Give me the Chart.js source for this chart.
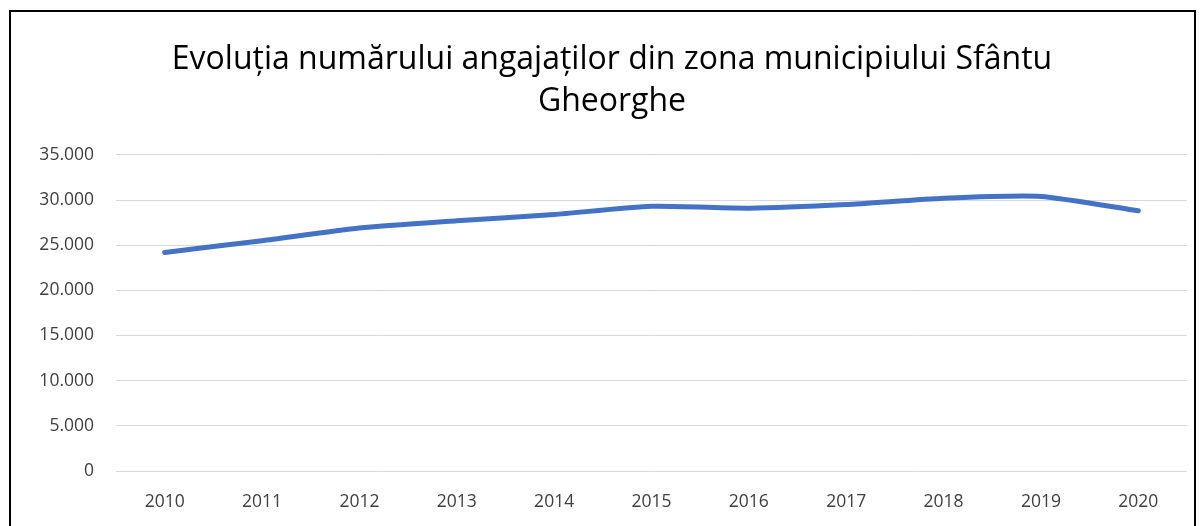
<!DOCTYPE html>
<html>
<head>
<meta charset="utf-8">
<script src="https://cdn.jsdelivr.net/npm/chart.js@4"></script>
<style>
	body { margin: 0; background: #fff; overflow: hidden; }
	.cadre {
		position: absolute;
		left: 9px;
		top: 10px;
		width: 1183px;
		height: 530px;
		border: 2px solid #000;
	}
	canvas { display: block; }
</style>
</head>
<body>
<div class="cadre">
	<canvas id="graphique-angajati" width="1183" height="514"></canvas>
</div>
<script>
// Données du graphique
const ani = ['2010', '2011', '2012', '2013', '2014', '2015', '2016', '2017', '2018', '2019', '2020'];
const angajati = [24200, 25500, 26900, 27700, 28400, 29300, 29100, 29500, 30200, 30400, 28800];
const titlu = ['Evoluția numărului angajaților din zona municipiului Sfântu', 'Gheorghe'];

// format 35.000
function formatNumar(v) {
	return String(v).replace(/\B(?=(\d{3})+(?!\d))/g, '.');
}

const canvas = document.querySelector('#graphique-angajati');

new Chart(canvas, {
	type: 'line',
	data: {
		labels: ani,
		datasets: [
			{
				label: 'Angajați',
				data: angajati,
				borderColor: '#4472C4',
				borderWidth: 5,
				borderCapStyle: 'round',
				borderJoinStyle: 'round',
				pointRadius: 0,
				tension: 0.2,
				fill: false,
			},
		],
	},
	options: {
		responsive: false,
		animation: false,
		layout: {
			padding: { left: 26, right: 7, top: 0, bottom: 0 },
		},
		plugins: {
			legend: { display: false },
			tooltip: { enabled: false },
			title: {
				display: true,
				text: titlu,
				color: '#000',
				font: { family: 'Open Sans', size: 32, weight: 'normal', lineHeight: 1.31 },
				padding: { top: 27, bottom: 32 },
			},
		},
		scales: {
			x: {
				offset: true,
				grid: { display: false },
				border: { display: false },
				ticks: {
					color: '#404040',
					font: { family: 'Open Sans', size: 17.5 },
					padding: 13,
				},
			},
			y: {
				min: 0,
				max: 35000,
				afterFit: (scale) => { scale.width = 79; },
				grid: { color: '#d9d9d9', drawTicks: false },
				border: { display: false },
				ticks: {
					stepSize: 5000,
					color: '#404040',
					font: { family: 'Open Sans', size: 17.5 },
					padding: 22,
					callback: (v) => formatNumar(v),
				},
			},
		},
	},
});
</script>
</body>
</html>
